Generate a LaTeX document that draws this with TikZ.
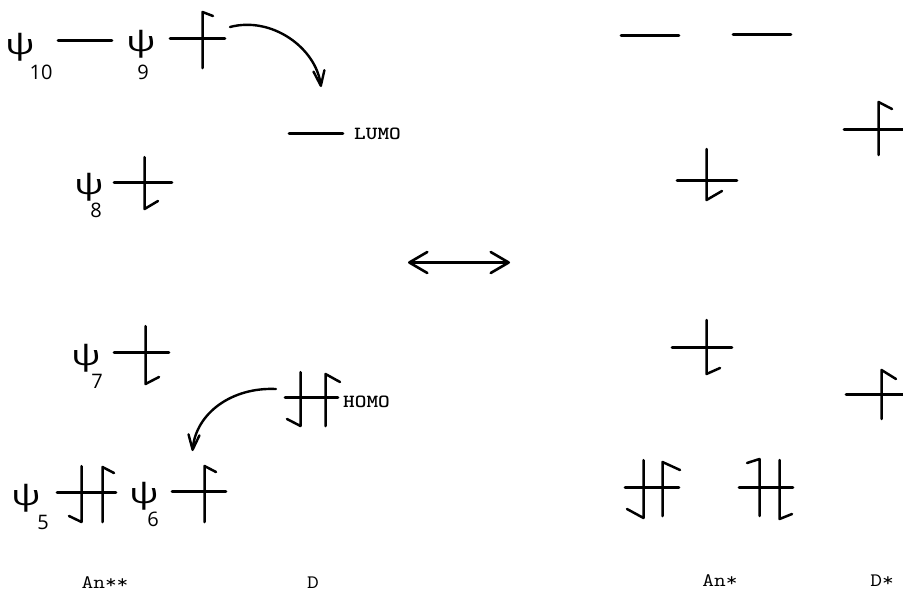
\documentclass[tikz,border=0pt]{standalone}
\usepackage{fontspec}
\usepackage{graphicx}
\newfontfamily\psifont{Open Sans}
\newfontfamily\subfont{Open Sans}
\usetikzlibrary{arrows.meta}
\newcommand{\wide}[1]{\scalebox{1.2}[1]{#1}}
\newcommand{\widepsi}{\scalebox{1.4}[1]{ψ}}
\tikzset{
  x=1pt,y=-1pt,
  stroke/.style={line width=2.6pt,line cap=round,line join=round,black},
  orbital/.style={stroke},
  spin/.style={stroke,line width=2.5pt},
  barb/.style={stroke,line width=2.4pt,-{Straight Barb[length=15pt,width=11pt,line width=2.4pt,round]}},
  dbl/.style={stroke,line width=2.6pt,{Straight Barb[length=18pt,width=21pt,line width=2.6pt,round]}-{Straight Barb[length=18pt,width=21pt,line width=2.6pt,round]}},
  psi/.style={inner sep=0pt,font=\psifont\fontsize{28}{28}\selectfont},
  idx/.style={inner sep=0pt,font=\subfont\fontsize{20}{20}\selectfont},
  lab/.style={inner sep=0pt,font=\ttfamily\bfseries\fontsize{18.5}{18.5}\selectfont},
  tag/.style={inner sep=0pt,font=\ttfamily\fontsize{19}{19}\selectfont}
}
\begin{document}
\begin{tikzpicture}
\useasboundingbox (0,0) rectangle (903,592);
% psi labels
\node[psi] (p10) at (20,47) {\widepsi};
\node[idx] (s10) at (41,72) {10};
\node[psi] (p9) at (141,44) {\widepsi};
\node[idx] (s9) at (143,72) {9};
\node[psi] (p8) at (89,187) {\widepsi};
\node[idx] (s8) at (96,210) {8};
\node[psi] (p7) at (86,358) {\widepsi};
\node[idx] (s7) at (97,381) {7};
\node[psi] (p5) at (26,498) {\widepsi};
\node[idx] (s5) at (43,522) {5};
\node[psi] (p6) at (144,496) {\widepsi};
\node[idx] (s6) at (153,519) {6};
% An** / D levels
\draw[orbital] (58,40.5) -- (112,40.5);
\draw[orbital] (170,38.5) -- (225,38.5);
\draw[spin] (202.5,68) -- (202.5,12) -- (213,16);
\draw[orbital] (289,133.5) -- (343,133.5);
\node[lab,anchor=west] (lumo) at (354,134) {\wide{LUMO}};
\draw[orbital] (114,182.5) -- (172,182.5);
\draw[spin] (144.5,157) -- (144.5,209) -- (158,201);
\draw[orbital] (114,352.5) -- (169,352.5);
\draw[spin] (145.5,326) -- (145.5,384) -- (159,377);
\draw[orbital] (285,397.5) -- (338,397.5);
\draw[spin] (300.5,372) -- (300.5,426) -- (287,419);
\draw[spin] (325.5,426) -- (325.5,374) -- (340,382);
\node[lab,anchor=west] (homo) at (343,402) {\wide{HOMO}};
\draw[orbital] (57,492.5) -- (116,492.5);
\draw[spin] (81.5,466) -- (81.5,522) -- (69,516);
\draw[spin] (102.5,522) -- (102.5,467) -- (114,473);
\draw[orbital] (172,491.5) -- (226,491.5);
\draw[spin] (204.5,522) -- (204.5,466) -- (216,472);
% excitation arrows
\coordinate (a1) at (230,27);
\coordinate (a2) at (321,87);
\coordinate (b1) at (276,389);
\coordinate (b2) at (192.5,451);
\draw[barb] (a1) .. controls (272,16) and (316,48) .. (a2);
\draw[barb] (b1) .. controls (232,387) and (196,413) .. (b2);
% resonance arrow
\coordinate (r1) at (408,262.5);
\coordinate (r2) at (510,262.5);
\draw[dbl] (r1) -- (r2);
% An* / D* levels
\draw[orbital] (621,35.5) -- (679,35.5);
\draw[orbital] (733,34.5) -- (791,34.5);
\draw[orbital] (677,180.5) -- (737,180.5);
\draw[spin] (706.5,149) -- (706.5,200) -- (722,191);
\draw[orbital] (844,129.5) -- (903,129.5);
\draw[spin] (878.5,155) -- (878.5,102) -- (892,109);
\draw[orbital] (672,347.5) -- (732,347.5);
\draw[spin] (706.5,320) -- (706.5,374) -- (720,368);
\draw[orbital] (846,394.5) -- (903,394.5);
\draw[spin] (881.5,419) -- (881.5,370) -- (896,379);
\draw[orbital] (625,487.5) -- (679,487.5);
\draw[spin] (643.5,460) -- (643.5,518) -- (627,509);
\draw[spin] (662.5,516) -- (662.5,462) -- (680,470);
\draw[orbital] (739,487.5) -- (793,487.5);
\draw[spin] (759.5,516) -- (759.5,459) -- (747,463);
\draw[spin] (779.5,460) -- (779.5,519) -- (792,514);
% captions
\node[tag] (an2) at (105,583) {\wide{An**}};
\node[tag] (d) at (313,583) {\wide{D}};
\node[tag] (an1) at (720,581) {\wide{An*}};
\node[tag] (ds) at (882,581) {\wide{D*}};
\end{tikzpicture}
\end{document}
